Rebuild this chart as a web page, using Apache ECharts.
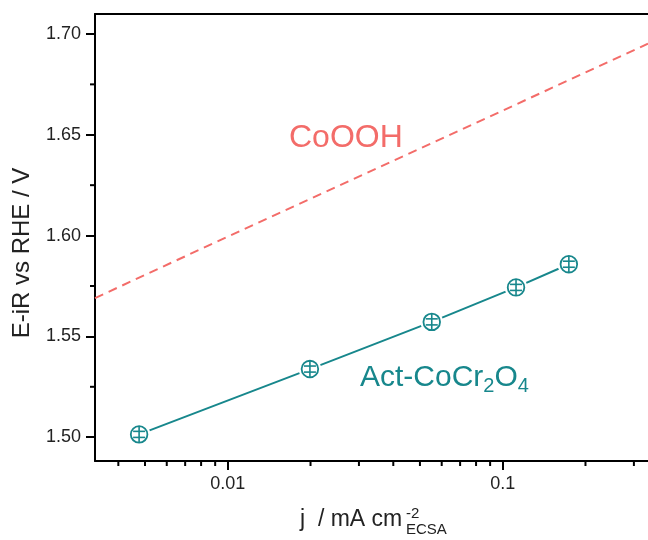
<!DOCTYPE html>
<html>
<head>
<meta charset="utf-8">
<script src="https://cdn.jsdelivr.net/npm/echarts@6/dist/echarts.min.js"></script>
<style>
  html, body { margin: 0; padding: 0; background: #fff; }
  #chart { width: 648px; height: 540px; }
</style>
</head>
<body>
<div id="chart"></div>
<script>
// Act-CoCr2O4 Tafel points: current density (mA cm^-2 ECSA), potential (V), error
const actJ = [0.00476, 0.0199, 0.0552, 0.1118, 0.174];
const actE = [1.5014, 1.5338, 1.5572, 1.5743, 1.5858];
const actErr = [0.0015, 0.0015, 0.0015, 0.0015, 0.0015];

// CoOOH reference Tafel line
const cooohJ = [0.00329, 0.01, 0.1, 0.3376];
const cooohE = [1.569, 1.5995, 1.662, 1.6952];

// Axis ticks
const xMajorTicks = [0.01, 0.1];
const xTickLabels = ['0.01', '0.1'];
const xMinorTicks = [0.004, 0.005, 0.006, 0.007, 0.008, 0.009,
                     0.02, 0.03, 0.04, 0.05, 0.06, 0.07, 0.08, 0.09, 0.2, 0.3];
const yMajorTicks = [1.50, 1.55, 1.60, 1.65, 1.70];
const yTickLabels = ['1.50', '1.55', '1.60', '1.65', '1.70'];
const yMinorTicks = [1.525, 1.575, 1.625, 1.675];

const X_MIN = 0.00329, X_MAX = 0.3376;
const Y_MIN = 1.4882, Y_MAX = 1.7099;

const TEAL = '#17878C';
const SALMON = '#F36C69';
const AXIS = '#000';
const LABEL = '#222';
const FONT = '"Liberation Sans", Arial, sans-serif';

const chart = echarts.init(document.getElementById('chart'), null, { renderer: 'canvas' });

const actPoints = actJ.map((j, i) => [j, actE[i], actErr[i]]);
const cooohPoints = cooohJ.map((j, i) => [j, cooohE[i]]);

const option = {
  backgroundColor: '#fff',
  animation: false,
  grid: { left: 95, right: 0, top: 14, bottom: 79, containLabel: false },
  xAxis: [
    {
      type: 'log', logBase: 10, min: X_MIN, max: X_MAX,
      position: 'bottom',
      axisLine: { show: true, lineStyle: { color: AXIS, width: 2 } },
      axisTick: { show: true, length: 9, lineStyle: { color: AXIS, width: 2 }, customValues: xMajorTicks },
      axisLabel: {
        show: true, customValues: xMajorTicks, margin: 14,
        color: LABEL, fontSize: 18, fontFamily: FONT,
        formatter: v => {
          const k = xMajorTicks.findIndex(t => Math.abs(Math.log10(t) - Math.log10(v)) < 1e-6);
          return k >= 0 ? xTickLabels[k] : '';
        }
      },
      splitLine: { show: false }, minorTick: { show: false }
    },
    {
      type: 'log', logBase: 10, min: X_MIN, max: X_MAX,
      position: 'top',
      axisLine: { show: true, lineStyle: { color: AXIS, width: 2 } },
      axisTick: { show: false }, axisLabel: { show: false }, splitLine: { show: false }
    }
  ],
  yAxis: {
    type: 'value', min: Y_MIN, max: Y_MAX,
    axisLine: { show: true, lineStyle: { color: AXIS, width: 2 } },
    axisTick: { show: true, length: 9, lineStyle: { color: AXIS, width: 2 }, customValues: yMajorTicks },
    axisLabel: {
      show: true, customValues: yMajorTicks, margin: 14,
      color: LABEL, fontSize: 18, fontFamily: FONT,
      formatter: v => {
        const k = yMajorTicks.findIndex(t => Math.abs(t - v) < 1e-6);
        return k >= 0 ? yTickLabels[k] : '';
      }
    },
    splitLine: { show: false }, minorTick: { show: false }
  },
  series: [
    {
      name: 'CoOOH', type: 'line', data: cooohPoints,
      showSymbol: false, symbol: 'none', clip: true,
      lineStyle: { color: SALMON, width: 2, type: [9, 6] }, z: 2
    },
    {
      name: 'Act-CoCr2O4 line', type: 'line', data: actPoints.map(p => [p[0], p[1]]),
      showSymbol: false, symbol: 'none',
      lineStyle: { color: TEAL, width: 2 }, z: 3
    },
    {
      // hollow circle markers with error bars inside
      name: 'Act-CoCr2O4', type: 'custom', data: actPoints, z: 4,
      renderItem: (params, api) => {
        const j = api.value(0), e = api.value(1), err = api.value(2);
        const c = api.coord([j, e]);
        const up = api.coord([j, e + err]);
        const dn = api.coord([j, e - err]);
        const r = 8.3;
        const line = { stroke: TEAL, lineWidth: 1.6 };
        return {
          type: 'group',
          children: [
            { type: 'circle', shape: { cx: c[0], cy: c[1], r: r + 3 }, style: { fill: '#fff' } },
            { type: 'circle', shape: { cx: c[0], cy: c[1], r: r }, style: { fill: '#fff', stroke: TEAL, lineWidth: 1.8 } },
            { type: 'line', shape: { x1: c[0], y1: c[1] - r, x2: c[0], y2: c[1] + r }, style: line },
            { type: 'line', shape: { x1: c[0] - 6, y1: up[1], x2: c[0] + 6, y2: up[1] }, style: line },
            { type: 'line', shape: { x1: c[0] - 6, y1: dn[1], x2: c[0] + 6, y2: dn[1] }, style: line }
          ]
        };
      }
    },
    {
      // minor ticks on the log x axis
      name: 'xMinor', type: 'custom', data: xMinorTicks.map(v => [v, Y_MIN]), z: 5, clip: false, silent: true,
      renderItem: (params, api) => {
        const p = api.coord([api.value(0), Y_MIN]);
        return { type: 'line', shape: { x1: p[0], y1: p[1], x2: p[0], y2: p[1] + 5 }, style: { stroke: AXIS, lineWidth: 2 } };
      }
    },
    {
      // minor ticks on the y axis
      name: 'yMinor', type: 'custom', data: yMinorTicks.map(v => [X_MIN, v]), z: 5, clip: false, silent: true,
      renderItem: (params, api) => {
        const p = api.coord([X_MIN, api.value(1)]);
        return { type: 'line', shape: { x1: p[0] - 5, y1: p[1], x2: p[0], y2: p[1] }, style: { stroke: AXIS, lineWidth: 2 } };
      }
    }
  ],
  graphic: [
    {
      type: 'text', x: 22, y: 253, rotation: Math.PI / 2,
      style: {
        text: 'E-iR vs RHE / V', fill: LABEL, font: '24px ' + FONT,
        textAlign: 'center', textVerticalAlign: 'middle'
      }
    },
    {
      type: 'text', x: 300, y: 520,
      style: { text: 'j  / mA cm', fill: LABEL, font: '23px ' + FONT, textAlign: 'left', textVerticalAlign: 'middle' }
    },
    {
      type: 'text', x: 406, y: 514,
      style: { text: '-2', fill: LABEL, font: '15px ' + FONT, textAlign: 'left', textVerticalAlign: 'middle' }
    },
    {
      type: 'text', x: 406, y: 530,
      style: { text: 'ECSA', fill: LABEL, font: '15px ' + FONT, textAlign: 'left', textVerticalAlign: 'middle' }
    },
    {
      type: 'text', x: 289, y: 138,
      style: { text: 'CoOOH', fill: SALMON, font: '32px ' + FONT, textAlign: 'left', textVerticalAlign: 'middle' }
    },
    {
      type: 'text', x: 360, y: 378,
      style: {
        text: '{a|Act-CoCr}{s|2}{a|O}{s|4}',
        textAlign: 'left', textVerticalAlign: 'middle',
        rich: {
          a: { fill: TEAL, fontSize: 30, fontFamily: FONT },
          s: { fill: TEAL, fontSize: 20, fontFamily: FONT, padding: [16, 0, 0, 0] }
        }
      }
    }
  ]
};

chart.setOption(option);
</script>
</body>
</html>
